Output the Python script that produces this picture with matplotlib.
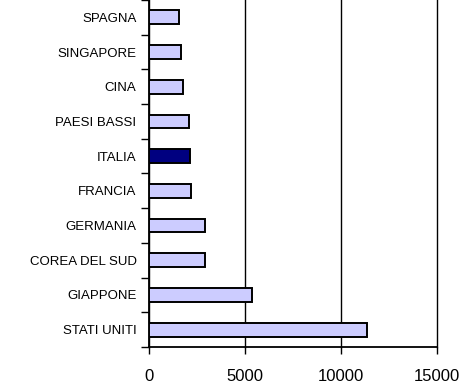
import numpy as np
import matplotlib
matplotlib.use("Agg")
import matplotlib.pyplot as plt

plt.rcParams['font.family'] = ['Liberation Sans', 'DejaVu Sans']

# Paesi, dal basso verso l'alto
paesi = ['STATI UNITI', 'GIAPPONE', 'COREA DEL SUD', 'GERMANIA', 'FRANCIA',
         'ITALIA', 'PAESI BASSI', 'CINA', 'SINGAPORE', 'SPAGNA']
valori = [11380, 5340, 2920, 2920, 2210, 2120, 2090, 1780, 1690, 1560]
x_ticks = [0, 5000, 10000, 15000]

colori = ['#000080' if p == 'ITALIA' else '#CCCCFF' for p in paesi]

fig = plt.figure(figsize=(4.68, 3.87), dpi=100)
ax = fig.add_axes([149 / 468, 40 / 387, 288 / 468, 347 / 387])

y = np.arange(len(paesi))
ax.barh(y, valori, height=0.4, color=colori, edgecolor='black', linewidth=1.4, zorder=3)

ax.set_xlim(0, 15000)
ax.set_ylim(-0.5, len(paesi) - 0.5)

# griglia verticale (anche sul bordo destro)
ax.set_xticks(x_ticks)
ax.xaxis.grid(True, color='black', linewidth=1.0, zorder=0)
for g in ax.get_xgridlines():
    g.set_clip_on(False)
ax.tick_params(axis='x', direction='out', length=5, width=1.0, labelsize=12, pad=11)

# etichette al centro, tacche tra le categorie
ax.set_yticks(y)
ax.set_yticklabels(paesi)
ax.set_yticks(np.arange(-0.5, len(paesi)), minor=True)
ax.tick_params(axis='y', which='major', length=0, labelsize=9.5, pad=9)
ax.tick_params(axis='y', which='minor', direction='out', length=6, width=1.0)

for s in ['top', 'right']:
    ax.spines[s].set_visible(False)
for s in ['left', 'bottom']:
    ax.spines[s].set_linewidth(1.3)

plt.savefig('out.png', dpi=100)
